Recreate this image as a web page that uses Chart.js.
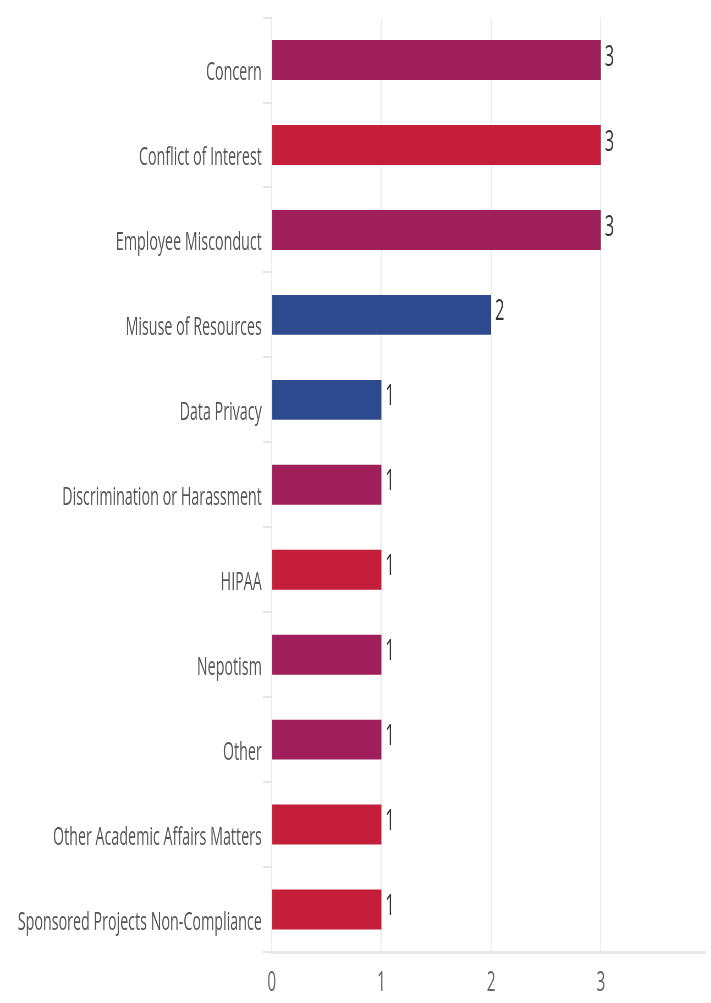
<!DOCTYPE html>
<html lang="en">
<head>
    <meta charset="UTF-8">
    <title>Reports by Category</title>
    <script src="https://cdn.jsdelivr.net/npm/chart.js"></script>
    <style>
        html, body {
            margin: 0;
            padding: 0;
            overflow: hidden;
            background: #fff;
        }
        /* chart is laid out wide, then squeezed horizontally */
        #wrap {
            width: 1293px;
            height: 1003px;
            transform: scaleX(0.55);
            transform-origin: 0 0;
        }
    </style>
</head>
<body>
    <div id="wrap">
        <canvas id="categoryChart" width="1293" height="1003"></canvas>
    </div>

    <script>
        const categories = [
            'Concern',
            'Conflict of Interest',
            'Employee Misconduct',
            'Misuse of Resources',
            'Data Privacy',
            'Discrimination or Harassment',
            'HIPAA',
            'Nepotism',
            'Other',
            'Other Academic Affairs Matters',
            'Sponsored Projects Non-Compliance'
        ];
        const reportCounts = [3, 3, 3, 2, 1, 1, 1, 1, 1, 1, 1];
        const xTickValues = [0, 1, 2, 3];

        const PURPLE = '#a01e5a';
        const RED = '#c41e3a';
        const BLUE = '#2e4a8f';
        const barColors = [PURPLE, RED, PURPLE, BLUE, BLUE, PURPLE, RED, PURPLE, PURPLE, RED, RED];

        // writes the count just past the end of each bar
        const valueLabels = {
            id: 'valueLabels',
            afterDatasetsDraw(chart) {
                const ctx = chart.ctx;
                const meta = chart.getDatasetMeta(0);
                ctx.save();
                ctx.font = '30px "Open Sans"';
                ctx.fillStyle = '#333';
                ctx.textAlign = 'left';
                ctx.textBaseline = 'middle';
                meta.data.forEach((bar, i) => {
                    ctx.fillText(String(reportCounts[i]), bar.x + 7, bar.y - 3);
                });
                ctx.restore();
            }
        };

        const ctx = document.getElementById('categoryChart').getContext('2d');
        new Chart(ctx, {
            type: 'bar',
            data: {
                labels: categories,
                datasets: [{
                    label: 'Reports',
                    data: reportCounts,
                    backgroundColor: barColors,
                    borderWidth: 0,
                    barPercentage: 0.47,
                    categoryPercentage: 1.0
                }]
            },
            options: {
                indexAxis: 'y',
                responsive: false,
                devicePixelRatio: 1,
                animation: false,
                layout: {
                    padding: { top: 14, right: 11, bottom: 0, left: 0 }
                },
                plugins: {
                    legend: { display: false },
                    tooltip: { enabled: false }
                },
                scales: {
                    x: {
                        min: 0,
                        max: 3.95,
                        afterBuildTicks(scale) {
                            scale.ticks = xTickValues.map(v => ({ value: v }));
                        },
                        afterFit(scale) {
                            scale.height = 51;
                        },
                        grid: {
                            color: '#ececec',
                            lineWidth: 2,
                            tickLength: 0
                        },
                        border: {
                            color: '#e8e8e8',
                            width: 3
                        },
                        ticks: {
                            padding: 14,
                            color: '#666',
                            font: { family: 'Open Sans', size: 28 }
                        }
                    },
                    y: {
                        afterFit(scale) {
                            scale.width = 494;
                        },
                        grid: {
                            drawOnChartArea: false,
                            offset: true,
                            tickLength: 16,
                            color: '#e6e6e6',
                            lineWidth: 2
                        },
                        border: { display: false },
                        ticks: {
                            padding: 2,
                            labelOffset: 13,
                            color: '#555',
                            font: { family: 'Open Sans', size: 26 }
                        }
                    }
                }
            },
            plugins: [valueLabels]
        });
    </script>
</body>
</html>
